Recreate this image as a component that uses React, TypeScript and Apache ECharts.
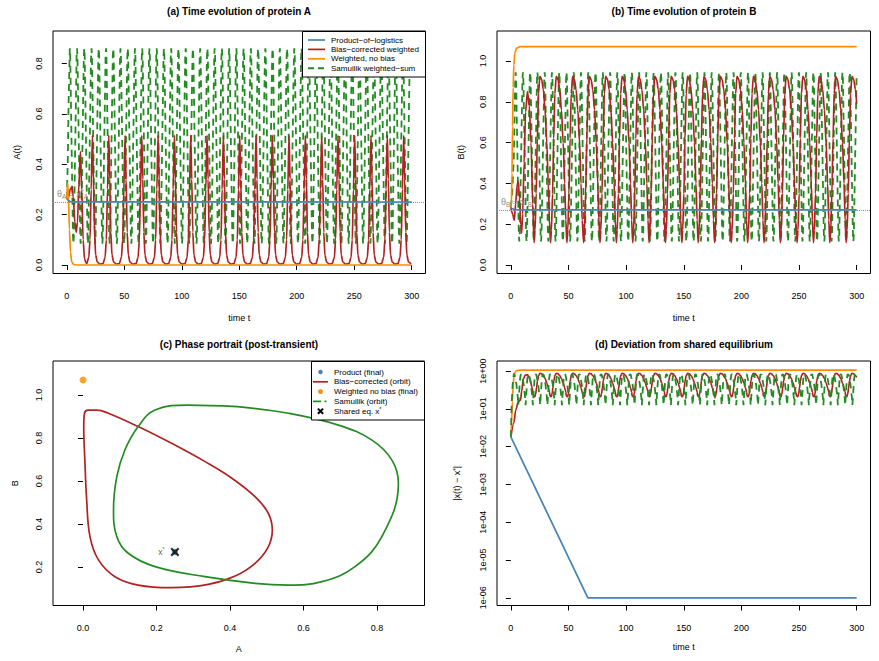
import React, { useEffect, useRef } from "react";
import * as echarts from "echarts";

const FONT = "'Liberation Sans', Arial, Helvetica, sans-serif";
const C_BLUE = "#4682B4";
const C_RED = "#B22222";
const C_ORANGE = "#FF8C00";
const C_GREEN = "#228B22";
const C_THRESH = "#8c8c8c";
const T_END = 300;

// ---- axis ticks ----
const timeTicks = [0, 50, 100, 150, 200, 250, 300];
const levelTicksA = [0, 0.2, 0.4, 0.6, 0.8];
const levelTicksB = [0, 0.2, 0.4, 0.6, 0.8, 1.0];
const phaseTicksA = [0, 0.2, 0.4, 0.6, 0.8];
const phaseTicksB = [0.2, 0.4, 0.6, 0.8, 1.0];
const devTicks = [1e-6, 1e-5, 1e-4, 1e-3, 1e-2, 1e-1, 1];

// ---- shared equilibrium x* ----
const eqA = 0.25;
const eqB = 0.27;

// ---- product-of-logistics: settles on x* ----
const productA = [[0, 0.262], [1.2, 0.257], [3, 0.252], [6, 0.2505], [300, 0.25]];
const productB = [[0, 0.282], [1.2, 0.277], [3, 0.272], [6, 0.2705], [300, 0.27]];
const productDev = [[0, 0.018], [66.8, 1e-6], [300, 1e-6]];

// ---- weighted, no bias: collapses to A = 0, B ≈ 1.07 ----
const weightedA = [[0, 0.262], [0.6, 0.325], [1.4, 0.28], [2.3, 0.14], [3.2, 0.05], [4.3, 0.012], [6, 0.002], [9, 0], [300, 0]];
const weightedB = [[0, 0.282], [0.5, 0.3], [1, 0.45], [1.5, 0.68], [2, 0.87], [2.6, 0.98], [3.5, 1.04], [5, 1.063], [8, 1.07], [300, 1.07]];
const weightedDev = [[0, 0.018], [0.7, 0.045], [1.3, 0.15], [2, 0.4], [2.7, 0.7], [3.6, 0.92], [5, 1.02], [8, 1.05], [300, 1.05]];
const weightedFinal = [[0.0, 1.07]];

// ---- bias-corrected weighted: relaxation oscillation ----
const redPeakTimes = [22.3, 36.5, 50.7, 65.2, 79.4, 93.6, 107.8, 122.0, 136.2, 150.4, 164.6, 178.8, 193.3, 207.5, 221.7, 235.9, 250.4, 264.6, 278.8, 293.0];
// one cycle around each A peak: [time offset, value]
const redSpikeA = [[-5, 0.006], [-3.2, 0.03], [-2.1, 0.1], [-1.1, 0.3], [0, 0.515], [0.9, 0.34], [1.8, 0.13], [2.8, 0.04], [4.2, 0.012], [6.5, 0.004]];
const redCycleB = [[-2.1, 0.11], [-1.3, 0.17], [-0.3, 0.35], [0.7, 0.62], [1.7, 0.84], [2.9, 0.925], [4.4, 0.91], [5.9, 0.86], [7.4, 0.76], [8.9, 0.6], [10.2, 0.4], [11.2, 0.22]];
const redCycleDev = [[-2.6, 0.22], [-1.5, 0.21], [-0.7, 0.25], [0, 0.36], [0.8, 0.55], [1.8, 0.77], [2.9, 0.87], [4.4, 0.84], [5.9, 0.76], [7.4, 0.63], [8.9, 0.48], [10.2, 0.36], [11.2, 0.28]];
const redStartA = [[0, 0.262], [1.5, 0.27], [3, 0.3], [4.5, 0.31], [5.6, 0.27], [7, 0.17], [8.2, 0.13], [9.3, 0.17], [10.5, 0.32], [11.9, 0.45], [13, 0.3], [14.2, 0.1], [15.4, 0.025], [16.8, 0.008]];
const redStartB = [[0, 0.282], [1.5, 0.25], [3, 0.22], [4.2, 0.3], [5.4, 0.39], [6.4, 0.41], [7.5, 0.33], [8.5, 0.2], [9.3, 0.155], [10.3, 0.25], [11.5, 0.5], [12.8, 0.75], [14.4, 0.85], [16, 0.78], [17.5, 0.6], [19, 0.3]];
const redStartDev = [[0, 0.018], [2.6, 0.042], [4.3, 0.093], [6.4, 0.154], [8.4, 0.17], [9.5, 0.3], [10.7, 0.6], [12.5, 0.78], [14.5, 0.8], [16.5, 0.62], [18.5, 0.36]];
const redEndB = [[300, 0.79]];
const redEndDev = [[300, 0.68]];
// limit cycle in the (A, B) plane
const redOrbitA = [0.241, 0.332, 0.405, 0.468, 0.504, 0.515, 0.504, 0.468, 0.414, 0.341, 0.241, 0.15, 0.087, 0.042, 0.019, 0.01, 0.005, 0.002, 0.004, 0.014, 0.037, 0.069, 0.15, 0.241];
const redOrbitB = [0.775, 0.69, 0.613, 0.527, 0.45, 0.372, 0.294, 0.217, 0.158, 0.119, 0.104, 0.116, 0.155, 0.233, 0.341, 0.512, 0.698, 0.853, 0.915, 0.93, 0.93, 0.915, 0.853, 0.775];

// ---- Samuilik weighted-sum: fast oscillation ----
const greenPeakTimes = [
  2.6, 8.9, 15.2, 21.5, 27.8, 34.1, 40.4, 46.7, 53.0, 59.3, 65.6, 71.9, 78.2, 84.5, 90.8, 97.1,
  103.4, 109.7, 116.0, 122.3, 128.6, 134.9, 141.2, 147.5, 153.8, 160.1, 166.4, 172.7, 179.0, 185.3, 191.6, 197.9,
  204.2, 210.5, 216.8, 223.1, 229.4, 235.7, 242.0, 248.3, 254.6, 260.9, 267.2, 273.5, 279.8, 286.1, 292.4, 298.7,
];
// [share of cycle after an A maximum, value]
const greenCycleA = [[0, 0.86], [0.06, 0.83], [0.44, 0.115], [0.5, 0.085], [0.56, 0.115], [0.94, 0.83]];
const greenCycleB = [[0, 0.53], [0.19, 0.915], [0.25, 0.945], [0.31, 0.915], [0.69, 0.145], [0.75, 0.115], [0.81, 0.145]];
const greenCycleDev = [[0, 0.85], [0.1, 0.8], [0.35, 0.45], [0.55, 0.2], [0.62, 0.125], [0.69, 0.2], [0.85, 0.6], [0.95, 0.82]];
const greenStartA = [[0, 0.262], [0.8, 0.4], [1.6, 0.65]];
const greenStartB = [[0, 0.282], [1.2, 0.35]];
const greenStartDev = [[0, 0.018], [0.8, 0.15], [1.6, 0.45]];
// limit cycle in the (A, B) plane
const greenOrbitA = [0.42, 0.287, 0.196, 0.15, 0.114, 0.092, 0.083, 0.092, 0.123, 0.196, 0.332, 0.468, 0.559, 0.65, 0.74, 0.813, 0.858, 0.84, 0.786, 0.695, 0.559, 0.42];
const greenOrbitB = [0.946, 0.953, 0.93, 0.853, 0.744, 0.62, 0.465, 0.341, 0.264, 0.202, 0.155, 0.124, 0.116, 0.132, 0.202, 0.341, 0.59, 0.698, 0.79, 0.86, 0.915, 0.946];

// ---- legends ----
const legendTime = ["Product−of−logistics", "Bias−corrected weighted", "Weighted, no bias", "Samuilik weighted−sum"];
const legendPhase = ["Product (final)", "Bias−corrected (orbit)", "Weighted no bias (final)", "Samuilik (orbit)", "Shared eq. x"];

type Pt = number[];

// repeat a cycle shape (offset, value) at every listed cycle time
function byOffset(first: Pt[], starts: number[], shape: Pt[], last: Pt[] = []): Pt[] {
  const out = first.slice();
  starts.forEach((s) => {
    shape.forEach(([dt, v]) => {
      const t = s + dt;
      if (t <= T_END && t > out[out.length - 1][0]) out.push([t, v]);
    });
  });
  last.forEach((p) => { if (p[0] > out[out.length - 1][0]) out.push(p); });
  return out;
}

// place cycle values at fractions of each cycle's length
function byPhase(first: Pt[], starts: number[], shape: Pt[]): Pt[] {
  const out = first.slice();
  starts.forEach((s, i) => {
    const len = i + 1 < starts.length ? starts[i + 1] - s : s - starts[i - 1];
    shape.forEach(([f, v]) => {
      const t = s + f * len;
      if (t <= T_END && t > out[out.length - 1][0]) out.push([t, v]);
    });
  });
  return out;
}

const zip = (a: number[], b: number[]) => a.map((v, i) => [v, b[i]]);

const redA = byOffset(redStartA, redPeakTimes, redSpikeA);
const redB = byOffset(redStartB, redPeakTimes, redCycleB, redEndB);
const redDev = byOffset(redStartDev, redPeakTimes, redCycleDev, redEndDev);
const greenA = byPhase(greenStartA, greenPeakTimes, greenCycleA);
const greenB = byPhase(greenStartB, greenPeakTimes, greenCycleB);
const greenDev = byPhase(greenStartDev, greenPeakTimes, greenCycleDev);
const redOrbit = zip(redOrbitA, redOrbitB);
const greenOrbit = zip(greenOrbitA, greenOrbitB);

const fmt1 = (v: number) => v.toFixed(1);
const fmtExp = (v: number) => {
  const e = Math.round(Math.log10(v));
  return "1e" + (e < 0 ? "-" : "+") + String(Math.abs(e)).padStart(2, "0");
};

const tickStyle = { color: "#000", width: 1 };
const labelBase = { fontSize: 9, fontFamily: FONT, color: "#000" };
const nameBase = { fontSize: 9, fontFamily: FONT, color: "#000" };

function xAxisDef(gridIndex: number, min: number, max: number, ticks: number[], name: string, nameGap: number, formatter?: (v: number) => string) {
  return {
    type: "value", gridIndex, min, max,
    axisLine: { show: false },
    axisTick: { show: true, length: 5, customValues: ticks, lineStyle: tickStyle },
    axisLabel: { ...labelBase, customValues: ticks, margin: 18, formatter },
    splitLine: { show: false },
    name, nameLocation: "middle", nameGap, nameTextStyle: nameBase,
  };
}

function yAxisDef(gridIndex: number, type: string, min: number, max: number, ticks: number[], name: string, nameGap: number, formatter: (v: number) => string, rich?: any) {
  return {
    type, gridIndex, min, max,
    axisLine: { show: false },
    axisTick: { show: true, length: 5, customValues: ticks, lineStyle: tickStyle },
    axisLabel: { ...labelBase, customValues: ticks, rotate: 90, margin: 10, formatter },
    splitLine: { show: false },
    name, nameLocation: "middle", nameGap, nameRotate: 90,
    nameTextStyle: { ...nameBase, rich },
  };
}

function lineSeries(name: string, data: Pt[], color: string, xi: number, yi: number, extra: any = {}) {
  return {
    type: "line", name, data, xAxisIndex: xi, yAxisIndex: yi,
    showSymbol: false, symbol: "none", smooth: 0.3, smoothMonotone: "x",
    lineStyle: { color, width: 1.7 }, itemStyle: { color },
    silent: true, animation: false, z: 2,
    ...extra,
  };
}

const greenDash = { color: C_GREEN, width: 1.8, type: [7, 5] };
const greenExtra = { lineStyle: greenDash, smooth: false };

const richSub = {
  m: { fontSize: 9, fontFamily: FONT, color: C_THRESH, lineHeight: 12, verticalAlign: "middle" },
  s: { fontSize: 6.5, fontFamily: FONT, color: C_THRESH, lineHeight: 6, verticalAlign: "bottom" },
  p: { fontSize: 6.5, fontFamily: FONT, color: C_THRESH, lineHeight: 6, verticalAlign: "top" },
};

function threshold(value: number, letter: string) {
  return {
    silent: true, symbol: ["none", "none"],
    lineStyle: { color: C_THRESH, type: "dotted", width: 1 },
    label: {
      show: true, position: "insideStartTop", distance: [4, 2],
      formatter: `{m|θ}{s|${letter}}{m| = x}{p|*}{s|${letter}}`,
      rich: richSub,
    },
    data: [{ yAxis: value }],
  };
}

function titleText(x: number, y: number, text: string) {
  return {
    type: "text", x, y, z: 100,
    style: { text, fontSize: 10, fontWeight: "bold", fontFamily: FONT, fill: "#000", align: "center", verticalAlign: "middle" },
  };
}

function legendTimeGraphic() {
  const colors = [C_BLUE, C_RED, C_ORANGE, C_GREEN];
  const ys = [40, 49.4, 58.8, 68.2];
  const children: any[] = [
    { type: "rect", z: 100, shape: { x: 302.5, y: 31.5, width: 123, height: 45.5 }, style: { fill: "#fff", stroke: "#000", lineWidth: 1 } },
  ];
  legendTime.forEach((t, i) => {
    children.push({
      type: "line", z: 101, shape: { x1: 308, y1: ys[i], x2: 325, y2: ys[i] },
      style: i === 3 ? { stroke: colors[i], lineWidth: 2, lineDash: [6, 4] } : { stroke: colors[i], lineWidth: 1.7 },
    });
    children.push({
      type: "text", z: 101, x: 331, y: ys[i],
      style: { text: t, fontSize: 8, fontFamily: FONT, fill: "#000", verticalAlign: "middle" },
    });
  });
  return { type: "group", z: 100, children };
}

function legendPhaseGraphic() {
  const ys = [372, 381.8, 391.6, 401.4, 411.2];
  const cx = 320.5;
  const z = 101;
  const children: any[] = [
    { type: "rect", z: 100, shape: { x: 311.5, y: 361.5, width: 113, height: 58.5 }, style: { fill: "#fff", stroke: "#000", lineWidth: 1 } },
    { type: "circle", z, shape: { cx, cy: ys[0], r: 2.2 }, style: { fill: C_BLUE } },
    { type: "line", z, shape: { x1: 313, y1: ys[1], x2: 328, y2: ys[1] }, style: { stroke: C_RED, lineWidth: 1.7 } },
    { type: "circle", z, shape: { cx, cy: ys[2], r: 2.4 }, style: { fill: C_ORANGE } },
    { type: "line", z, shape: { x1: 313, y1: ys[3], x2: 321, y2: ys[3] }, style: { stroke: C_GREEN, lineWidth: 1.7 } },
    { type: "line", z, shape: { x1: 324.5, y1: ys[3], x2: 326.5, y2: ys[3] }, style: { stroke: C_GREEN, lineWidth: 1.7 } },
    { type: "line", z, shape: { x1: cx - 2.6, y1: ys[4] - 2.6, x2: cx + 2.6, y2: ys[4] + 2.6 }, style: { stroke: "#000", lineWidth: 2 } },
    { type: "line", z, shape: { x1: cx - 2.6, y1: ys[4] + 2.6, x2: cx + 2.6, y2: ys[4] - 2.6 }, style: { stroke: "#000", lineWidth: 2 } },
  ];
  legendPhase.forEach((t, i) => {
    children.push({
      type: "text", z, x: 334, y: ys[i],
      style: i === 4
        ? {
            text: `{n|${t}}{p|*}`, fontFamily: FONT, fill: "#000", verticalAlign: "middle",
            rich: { n: { fontSize: 8, fontFamily: FONT, lineHeight: 10, verticalAlign: "middle" }, p: { fontSize: 5.5, fontFamily: FONT, lineHeight: 5, verticalAlign: "top" } },
          }
        : { text: t, fontSize: 8, fontFamily: FONT, fill: "#000", verticalAlign: "middle" },
    });
  });
  return { type: "group", z: 100, children };
}

function buildOption() {
  const gridBase = { show: true, borderColor: "#000", borderWidth: 1, backgroundColor: "transparent", containLabel: false };
  return {
    animation: false,
    backgroundColor: "#fff",
    textStyle: { fontFamily: FONT },
    grid: [
      { ...gridBase, left: 53, top: 31, width: 372.5, height: 242.5 },
      { ...gridBase, left: 497, top: 31, width: 373.5, height: 242.5 },
      { ...gridBase, left: 53, top: 361, width: 371.5, height: 244.5 },
      { ...gridBase, left: 497, top: 361, width: 373.5, height: 244.5 },
    ],
    xAxis: [
      xAxisDef(0, -12, 312, timeTicks, "time t", 40),
      xAxisDef(1, -12, 312, timeTicks, "time t", 40),
      xAxisDef(2, -0.0816, 0.929, phaseTicksA, "A", 39, fmt1),
      xAxisDef(3, -12, 312, timeTicks, "time t", 37),
    ],
    yAxis: [
      yAxisDef(0, "value", -0.0337, 0.929, levelTicksA, "A(t)", 32, fmt1),
      yAxisDef(1, "value", -0.0417, 1.147, levelTicksB, "B(t)", 32, fmt1),
      yAxisDef(2, "value", 0.021, 1.158, phaseTicksB, "B", 34, fmt1),
      yAxisDef(3, "log", Math.pow(10, -6.204), Math.pow(10, 0.265), devTicks, "|x(t) − x{p|*}|", 36, fmtExp, {
        p: { fontSize: 6.5, fontFamily: FONT, lineHeight: 6, verticalAlign: "top" },
      }),
    ],
    series: [
      // (a) protein A
      lineSeries(legendTime[3], greenA, C_GREEN, 0, 0, greenExtra),
      lineSeries(legendTime[1], redA, C_RED, 0, 0),
      lineSeries(legendTime[2], weightedA, C_ORANGE, 0, 0),
      lineSeries(legendTime[0], productA, C_BLUE, 0, 0, { markLine: threshold(eqA, "A") }),
      // (b) protein B
      lineSeries(legendTime[3], greenB, C_GREEN, 1, 1, greenExtra),
      lineSeries(legendTime[1], redB, C_RED, 1, 1),
      lineSeries(legendTime[2], weightedB, C_ORANGE, 1, 1),
      lineSeries(legendTime[0], productB, C_BLUE, 1, 1, { markLine: threshold(eqB, "B") }),
      // (c) phase portrait
      lineSeries(legendPhase[1], redOrbit, C_RED, 2, 2, { smooth: 0.4, smoothMonotone: undefined }),
      lineSeries(legendPhase[3], greenOrbit, C_GREEN, 2, 2, { smooth: 0.4, smoothMonotone: undefined }),
      {
        type: "scatter", name: legendPhase[2], xAxisIndex: 2, yAxisIndex: 2, data: weightedFinal,
        symbol: "circle", symbolSize: 7, itemStyle: { color: C_ORANGE }, silent: true, z: 3,
      },
      {
        type: "scatter", name: legendPhase[0], xAxisIndex: 2, yAxisIndex: 2, data: [[eqA, eqB]],
        symbol: "circle", symbolSize: 6.5, itemStyle: { color: C_BLUE }, silent: true, z: 3,
      },
      {
        type: "scatter", name: legendPhase[4], xAxisIndex: 2, yAxisIndex: 2, data: [[eqA, eqB]],
        symbol: "path://M0 0L10 10M10 0L0 10", symbolSize: 7.5,
        itemStyle: { color: "none", borderColor: "#000", borderWidth: 2.2 }, silent: true, z: 4,
        label: {
          show: true, position: "left", distance: 4, formatter: "{m|x}{p|*}",
          rich: {
            m: { fontSize: 8.5, fontFamily: FONT, color: "#333", lineHeight: 11, verticalAlign: "middle" },
            p: { fontSize: 5.5, fontFamily: FONT, color: "#333", lineHeight: 5, verticalAlign: "top" },
          },
        },
      },
      // (d) deviation from x*
      lineSeries(legendTime[0], productDev, C_BLUE, 3, 3, { smooth: false }),
      lineSeries(legendTime[1], redDev, C_RED, 3, 3),
      lineSeries(legendTime[2], weightedDev, C_ORANGE, 3, 3),
      lineSeries(legendTime[3], greenDev, C_GREEN, 3, 3, greenExtra),
    ],
    graphic: [
      titleText(239, 11, "(a) Time evolution of protein A"),
      titleText(684, 11, "(b) Time evolution of protein B"),
      titleText(239, 344, "(c) Phase portrait (post-transient)"),
      titleText(684, 344, "(d) Deviation from shared equilibrium"),
      legendTimeGraphic(),
      legendPhaseGraphic(),
    ],
  };
}

export default function App() {
  const ref = useRef<HTMLDivElement>(null);
  useEffect(() => {
    if (!ref.current) return;
    const chart = echarts.init(ref.current, null, { renderer: "svg" });
    chart.setOption(buildOption() as any);
    return () => chart.dispose();
  }, []);
  return (
    <div
      ref={ref}
      style={{ position: "absolute", left: 0, top: 0, width: 879, height: 661, background: "#fff" }}
    />
  );
}
